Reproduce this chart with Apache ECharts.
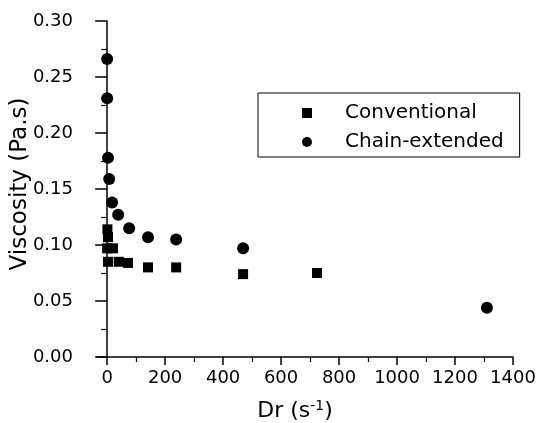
<!DOCTYPE html>
<html>
<head>
<meta charset="utf-8">
<script src="https://cdn.jsdelivr.net/npm/echarts@6/dist/echarts.min.js"></script>
<style>
html,body{margin:0;padding:0;background:#fff;}
#chart{width:542px;height:423px;}
</style>
</head>
<body>
<div id="chart"></div>
<script>
// Data
const conventionalX = [1, 3, 0, 20, 3, 40, 72, 141, 238, 469, 724];
const conventionalY = [0.114, 0.107, 0.097, 0.097, 0.085, 0.085, 0.084, 0.080, 0.080, 0.074, 0.075];
const chainX = [0, 0, 3, 7, 17, 38, 76, 141, 238, 469, 1310];
const chainY = [0.266, 0.231, 0.178, 0.159, 0.138, 0.127, 0.115, 0.107, 0.105, 0.097, 0.044];
const xTicks = [0, 200, 400, 600, 800, 1000, 1200, 1400];
const xMinorTicks = [100, 300, 500, 700, 900, 1100, 1300];
const seriesNames = ['Conventional', 'Chain-extended'];

const FONT = 'DejaVu Sans';
const chart = echarts.init(document.getElementById('chart'));
const pair = (xs, ys) => xs.map((x, i) => [x, ys[i]]);

chart.setOption({
  animation: false,
  backgroundColor: '#fff',
  grid: { left: 97, right: 29, top: 21, bottom: 66, containLabel: false, outerBoundsMode: 'none' },
  legend: {
    orient: 'vertical',
    left: 258, top: 93,
    padding: [10, 16, 5, 44],
    itemGap: 9,
    itemWidth: 10, itemHeight: 10,
    borderColor: '#000', borderWidth: 1,
    textStyle: { fontFamily: FONT, fontSize: 20, color: '#000', padding: [0, 0, 0, 28] },
    data: [
      { name: seriesNames[0], icon: 'rect' },
      { name: seriesNames[1], icon: 'circle', itemStyle: { borderWidth: 0 } }
    ]
  },
  xAxis: [{
    type: 'value', min: -35, max: 1400,
    name: 'Dr (s{sup|-1})', nameLocation: 'middle', nameGap: 42, nameMoveOverlap: false,
    nameTextStyle: { fontFamily: FONT, fontSize: 22, color: '#000', padding: [0, 20, 0, 0],
      rich: { sup: { fontFamily: FONT, fontSize: 14, color: '#000', verticalAlign: 'top', padding: [0, 0, 10, 0] } } },
    axisLine: { show: true, lineStyle: { color: '#000', width: 1.5 } },
    axisTick: { show: true, inside: false, length: 8, customValues: xTicks, lineStyle: { color: '#000', width: 1.5 } },
    axisLabel: { customValues: xTicks, fontFamily: FONT, fontSize: 18, color: '#000', margin: 12, formatter: v => String(v) },
    splitLine: { show: false }
  }, {
    type: 'value', min: -35, max: 1400, position: 'bottom',
    axisLine: { show: false },
    axisTick: { show: true, length: 5, customValues: xMinorTicks, lineStyle: { color: '#000', width: 1.2 } },
    axisLabel: { show: false },
    splitLine: { show: false }
  }],
  yAxis: {
    type: 'value', min: 0, max: 0.30, interval: 0.05,
    name: 'Viscosity (Pa.s)', nameLocation: 'middle', nameGap: 65, nameMoveOverlap: false,
    nameTextStyle: { fontFamily: FONT, fontSize: 23, color: '#000', padding: [0, 0, 0, 10] },
    axisLine: { show: true, onZero: true, lineStyle: { color: '#000', width: 1.5 } },
    axisTick: { show: true, length: 12, lineStyle: { color: '#000', width: 1.5 } },
    minorTick: { show: true, splitNumber: 2, length: 6, lineStyle: { color: '#000', width: 1.2 } },
    axisLabel: { fontFamily: FONT, fontSize: 18, color: '#000', margin: 24, formatter: v => v.toFixed(2) },
    splitLine: { show: false }
  },
  series: [{
    name: seriesNames[0], type: 'scatter', symbol: 'rect', symbolSize: 10,
    itemStyle: { color: '#000', opacity: 1 },
    data: pair(conventionalX, conventionalY)
  }, {
    name: seriesNames[1], type: 'scatter', symbol: 'circle', symbolSize: 12,
    itemStyle: { color: '#000', opacity: 1 },
    data: pair(chainX, chainY)
  }]
});
</script>
</body>
</html>
